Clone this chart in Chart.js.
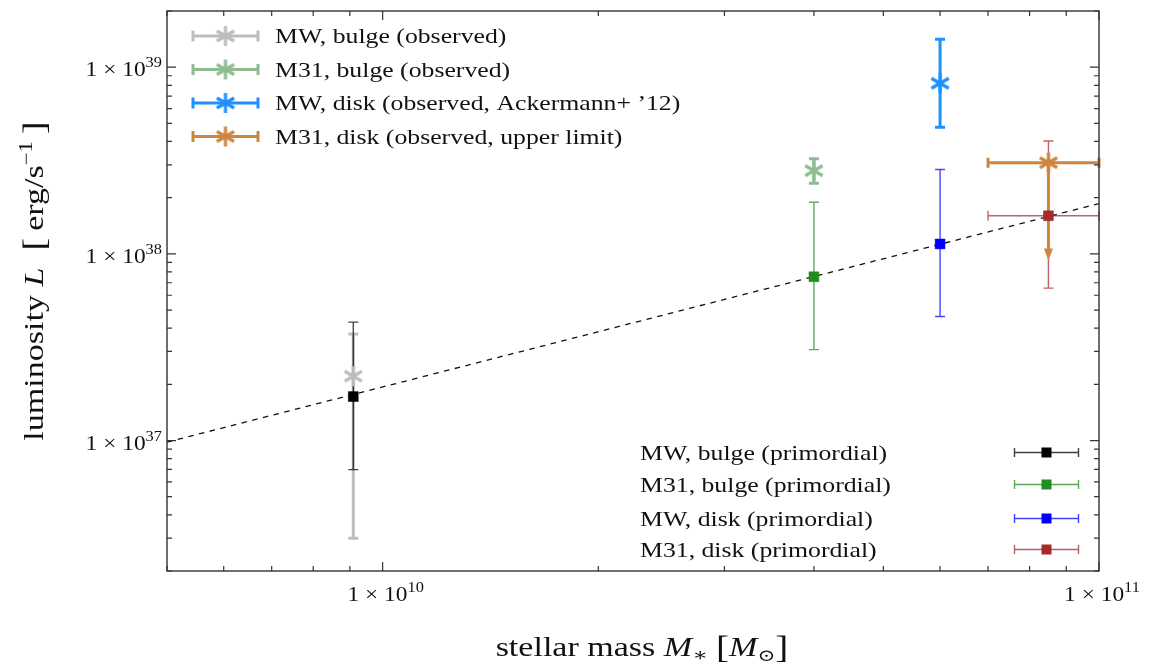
<!DOCTYPE html>
<html>
<head>
<meta charset="utf-8">
<script src="https://cdn.jsdelivr.net/npm/chart.js@4.4.0/dist/chart.umd.min.js"></script>
<style>
  html, body { margin: 0; padding: 0; background: #fff; }
  #wrap { width: 1157px; height: 663px; }
</style>
</head>
<body>
<div id="wrap"><canvas id="lumChart" width="1157" height="663"></canvas></div>
<script>
// DATA
const galaxies = ["MW, bulge", "M31, bulge", "MW, disk", "M31, disk"];
const stellarMass = [9.1e9, 4.0e10, 6.0e10, 8.5e10];
const stellarMassLow = [null, null, null, 7.0e10];
const stellarMassHigh = [null, null, null, 1.0e11];

const lumObserved = [2.21e37, 2.79e38, 8.2e38, 3.08e38];
const lumObservedLow = [3.0e36, 2.39e38, 4.77e38, null];
const lumObservedHigh = [3.72e37, 3.23e38, 1.41e39, null];
const lumUpperLimitTip = [null, null, null, 9.2e37];

const lumPrimordial = [1.72e37, 7.54e37, 1.13e38, 1.6e38];
const lumPrimordialLow = [6.98e36, 3.07e37, 4.62e37, 6.55e37];
const lumPrimordialHigh = [4.31e37, 1.89e38, 2.83e38, 4.02e38];

const fitMass = [5e9, 1e11];
const fitLum = [9.8e36, 1.86e38];

const xTickExponents = [10, 11];
const yTickExponents = [37, 38, 39];

const observedLabels = [
  "MW, bulge (observed)",
  "M31, bulge (observed)",
  "MW, disk (observed, Ackermann+ \u201912)",
  "M31, disk (observed, upper limit)",
];
const primordialLabels = galaxies.map((g) => g + " (primordial)");

const observedColors = ["#bdbdbd", "#8fbc8f", "#1e90ff", "#cd853f"];
const primordialColors = ["#000000", "#228b22", "#0000ff", "#a52a2a"];

// STYLE
const FONT = '"Liberation Serif", "DejaVu Serif", serif';
const TEXT_SX = 1.17;
const TITLE_SX = 1.26;
const AXIS_COLOR = "#333333";

function font(size, italic) {
  return (italic ? "italic " : "") + size + "px " + FONT;
}

// parts: [text, size, dy, italic]
function drawRich(ctx, parts, x, y, align, sx) {
  let w = 0;
  parts.forEach((p) => {
    ctx.font = font(p[1], p[3]);
    w += ctx.measureText(p[0]).width;
  });
  ctx.save();
  ctx.translate(x, y);
  ctx.scale(sx, 1);
  let cx = align === "center" ? -w / 2 : align === "right" ? -w : 0;
  ctx.textAlign = "left";
  ctx.textBaseline = "alphabetic";
  ctx.fillStyle = "#111";
  parts.forEach((p) => {
    ctx.font = font(p[1], p[3]);
    ctx.fillText(p[0], cx, p[2] || 0);
    cx += ctx.measureText(p[0]).width;
  });
  ctx.restore();
}

function makeAsterisk(color, r, lw) {
  const c = document.createElement("canvas");
  const s = Math.ceil(2 * r + lw + 2);
  c.width = s;
  c.height = s;
  const g = c.getContext("2d");
  g.strokeStyle = color;
  g.lineWidth = lw;
  const m = s / 2;
  g.beginPath();
  for (let k = 0; k < 3; k++) {
    const a = Math.PI / 2 + (k * Math.PI) / 3;
    g.moveTo(m - r * Math.cos(a), m - r * Math.sin(a));
    g.lineTo(m + r * Math.cos(a), m + r * Math.sin(a));
  }
  g.stroke();
  return c;
}
const asterisks = observedColors.map((c) => makeAsterisk(c, 10, 3.2));

function errorBar(ctx, x, y, x0, x1, y0, y1, color, lw, cap, alpha) {
  ctx.save();
  ctx.globalAlpha = alpha;
  ctx.strokeStyle = color;
  ctx.lineWidth = lw;
  ctx.beginPath();
  if (y0 !== null) {
    ctx.moveTo(x, y0);
    ctx.lineTo(x, y1);
    ctx.moveTo(x - cap, y0);
    ctx.lineTo(x + cap, y0);
    ctx.moveTo(x - cap, y1);
    ctx.lineTo(x + cap, y1);
  }
  if (x0 !== null) {
    ctx.moveTo(x0, y);
    ctx.lineTo(x1, y);
    ctx.moveTo(x0, y - cap);
    ctx.lineTo(x0, y + cap);
    ctx.moveTo(x1, y - cap);
    ctx.lineTo(x1, y + cap);
  }
  ctx.stroke();
  ctx.restore();
}

// error bars, upper-limit arrow
const errorBarPlugin = {
  id: "errorBars",
  beforeDatasetsDraw(chart) {
    const ctx = chart.ctx;
    const xs = chart.scales.x;
    const ys = chart.scales.y;
    const px = (v) => (v === null ? null : xs.getPixelForValue(v));
    const py = (v) => (v === null ? null : ys.getPixelForValue(v));

    const drawObserved = (i) => {
      const x = px(stellarMass[i]);
      const y = py(lumObserved[i]);
      errorBar(ctx, x, y, px(stellarMassLow[i]), px(stellarMassHigh[i]),
        py(lumObservedLow[i]), py(lumObservedHigh[i]), observedColors[i], 3, 5, 1);
      if (lumUpperLimitTip[i] !== null) {
        const tip = py(lumUpperLimitTip[i]);
        ctx.save();
        ctx.strokeStyle = observedColors[i];
        ctx.fillStyle = observedColors[i];
        ctx.lineWidth = 3;
        ctx.beginPath();
        ctx.moveTo(x, y);
        ctx.lineTo(x, tip - 10);
        ctx.stroke();
        ctx.beginPath();
        ctx.moveTo(x - 4.5, tip - 12);
        ctx.lineTo(x + 4.5, tip - 12);
        ctx.lineTo(x, tip);
        ctx.closePath();
        ctx.fill();
        ctx.restore();
      }
    };
    const drawPrimordial = (i) => {
      errorBar(ctx, px(stellarMass[i]), py(lumPrimordial[i]),
        px(stellarMassLow[i]), px(stellarMassHigh[i]),
        py(lumPrimordialLow[i]), py(lumPrimordialHigh[i]), primordialColors[i], 1.4, 5, 0.72);
    };
    drawObserved(0); drawPrimordial(0);
    drawObserved(1); drawPrimordial(1);
    drawObserved(2); drawPrimordial(2);
    drawPrimordial(3); drawObserved(3);
  },
};

// frame, inward ticks, tick labels, axis titles, legends
const decorPlugin = {
  id: "decor",
  afterDraw(chart) {
    const ctx = chart.ctx;
    const a = chart.chartArea;
    const xs = chart.scales.x;
    const ys = chart.scales.y;

    ctx.save();
    ctx.strokeStyle = AXIS_COLOR;
    ctx.lineWidth = 1.4;
    ctx.strokeRect(a.left, a.top, a.right - a.left, a.bottom - a.top);

    ctx.lineWidth = 1.2;
    ctx.beginPath();
    const logTicks = (scale, fn) => {
      const e0 = Math.floor(Math.log10(scale.min));
      const e1 = Math.ceil(Math.log10(scale.max));
      for (let e = e0; e <= e1; e++) {
        for (let m = 1; m < 10; m++) {
          const v = m * Math.pow(10, e);
          if (v < scale.min * 0.999 || v > scale.max * 1.001) continue;
          fn(scale.getPixelForValue(v), m === 1 ? 9 : 5);
        }
      }
    };
    logTicks(xs, (p, len) => {
      ctx.moveTo(p, a.bottom); ctx.lineTo(p, a.bottom - len);
      ctx.moveTo(p, a.top); ctx.lineTo(p, a.top + len);
    });
    logTicks(ys, (p, len) => {
      ctx.moveTo(a.left, p); ctx.lineTo(a.left + len, p);
      ctx.moveTo(a.right, p); ctx.lineTo(a.right - len, p);
    });
    ctx.stroke();
    ctx.restore();

    // tick labels
    xTickExponents.forEach((e) => {
      const p = xs.getPixelForValue(Math.pow(10, e));
      drawRich(ctx, [["1 \u00d7 10", 20], [String(e), 14, -9]], p + 3, 601, "center", TEXT_SX);
    });
    yTickExponents.forEach((e) => {
      const p = ys.getPixelForValue(Math.pow(10, e));
      drawRich(ctx, [["1 \u00d7 10", 20], [String(e), 14, -9]], a.left - 5, p + 9, "right", TEXT_SX);
    });

    // axis titles
    drawRich(ctx, [
      ["stellar mass ", 27], ["M", 27, 0, true], ["\u2217", 18, 5],
      [" ", 27], ["[", 31, 2], ["M", 27, 0, true], ["\u2299", 17, 5], ["]", 31, 2],
    ], 642, 656, "center", TITLE_SX);

    ctx.save();
    ctx.translate(43, 281);
    ctx.rotate(-Math.PI / 2);
    drawRich(ctx, [
      ["luminosity ", 27], ["L", 27, 0, true], ["\u2002", 27], ["[", 31, 2], ["\u2009erg/s", 27],
      ["\u22121", 18, -11], ["\u2009", 27], ["]", 31, 2],
    ], 0, 0, "center", TITLE_SX);
    ctx.restore();

    // observed legend (upper left)
    const rows1 = [36, 69.5, 103, 136.5];
    observedLabels.forEach((label, i) => {
      const y = rows1[i];
      errorBar(ctx, 225.5, y, 193, 258, null, null, observedColors[i], 3, 5.5, 1);
      ctx.drawImage(asterisks[i], 225.5 - asterisks[i].width / 2, y - asterisks[i].height / 2);
      drawRich(ctx, [[label, 22]], 275, y + 7, "left", TEXT_SX);
    });

    // primordial legend (lower right)
    const rows2 = [452.5, 484.5, 518.5, 549.5];
    primordialLabels.forEach((label, i) => {
      const y = rows2[i];
      errorBar(ctx, 1046.5, y, 1014.5, 1078.5, null, null, primordialColors[i], 1.4, 4.5, 0.75);
      ctx.fillStyle = primordialColors[i];
      ctx.fillRect(1041.5, y - 5, 10, 10);
      drawRich(ctx, [[label, 22]], 640, y + 7, "left", TEXT_SX);
    });
  },
};

const datasets = [
  {
    label: "scaling",
    data: fitMass.map((m, i) => ({ x: m, y: fitLum[i] })),
    showLine: true,
    borderColor: "#111",
    borderWidth: 1.3,
    borderDash: [5.5, 5.5],
    pointRadius: 0,
    order: 3,
  },
];
galaxies.forEach((g, i) => {
  datasets.push({
    label: observedLabels[i],
    data: [{ x: stellarMass[i], y: lumObserved[i] }],
    pointStyle: asterisks[i],
    pointRadius: 10,
    order: 2,
  });
});
galaxies.forEach((g, i) => {
  datasets.push({
    label: primordialLabels[i],
    data: [{ x: stellarMass[i], y: lumPrimordial[i] }],
    pointStyle: "rect",
    pointRadius: 7,
    backgroundColor: primordialColors[i],
    borderColor: primordialColors[i],
    borderWidth: 0.5,
    order: 1,
  });
});

new Chart(document.getElementById("lumChart"), {
  type: "scatter",
  data: { datasets: datasets },
  options: {
    responsive: false,
    animation: false,
    devicePixelRatio: 1,
    layout: { padding: { top: 9, right: 58, left: 0, bottom: 0 } },
    plugins: { legend: { display: false }, tooltip: { enabled: false } },
    events: [],
    scales: {
      x: {
        type: "logarithmic",
        min: 5e9,
        max: 1e11,
        grid: { display: false },
        border: { display: false },
        ticks: { display: false },
        afterFit: (s) => { s.height = 92; },
      },
      y: {
        type: "logarithmic",
        min: 2e36,
        max: 2e39,
        grid: { display: false },
        border: { display: false },
        ticks: { display: false },
        afterFit: (s) => { s.width = 167; },
      },
    },
  },
  plugins: [errorBarPlugin, decorPlugin],
});
</script>
</body>
</html>
